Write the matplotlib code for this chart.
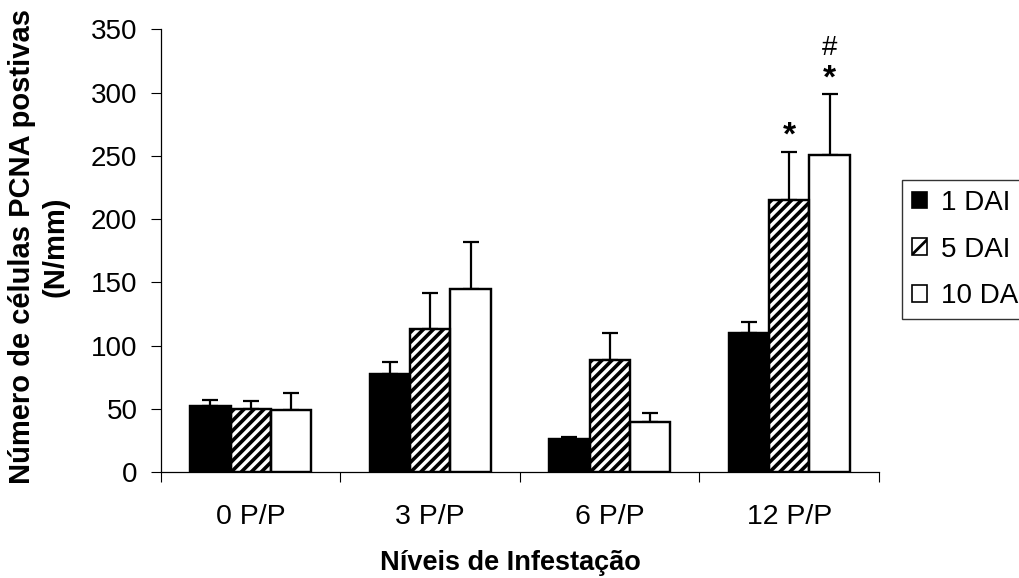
import numpy as np
import matplotlib
matplotlib.use("Agg")
import matplotlib.pyplot as plt
from matplotlib.patches import Patch

plt.rcParams["font.family"] = ["Liberation Sans", "DejaVu Sans"]
plt.rcParams["hatch.linewidth"] = 2.0

# ==== data ====
categories = ["0 P/P", "3 P/P", "6 P/P", "12 P/P"]
series = ["1 DAI", "5 DAI", "10 DAI"]
dai1 = [52, 78, 26, 110]
dai5 = [50, 113, 89, 215]
dai10 = [49, 145, 40, 251]
err1 = [5.5, 9, 2, 9]
err5 = [6, 29, 21, 38]
err10 = [14, 37, 7, 48]
yticks = [0, 50, 100, 150, 200, 250, 300, 350]

fig = plt.figure(figsize=(10.19, 5.78), dpi=100)
ax = fig.add_axes([0.158, 0.1829, 0.8626 - 0.158, 0.9493 - 0.1829])
ax.set_xlim(-0.5, 3.5)
ax.set_ylim(0, 350)

x = np.arange(len(categories))
w = 0.225
colors = ["black", "white", "white"]
values = [dai1, dai5, dai10]
errors = [err1, err5, err10]

containers = []
for i, (vals, errs) in enumerate(zip(values, errors)):
    pos = x + (i - 1) * w
    b = ax.bar(pos, vals, width=w, color=colors[i], edgecolor="black",
               linewidth=1.6, zorder=2)
    ax.bar(pos, vals, width=w, fill=False, edgecolor="black", linewidth=1.6,
           zorder=3)
    ax.errorbar(pos, vals, yerr=[np.zeros(len(errs)), errs], fmt="none",
                ecolor="black", elinewidth=1.6, capsize=6, capthick=1.6, zorder=1)
    containers.append(b)

# diagonal hatch on the 5 DAI bars (~10 px apart, 45 deg on screen)
bbox = ax.get_window_extent()
px_x = bbox.width / 4.0
px_y = bbox.height / 350.0
slope = px_x / px_y
step = 10 / px_y
for rect in containers[1]:
    x0, bw, h = rect.get_x(), rect.get_width(), rect.get_height()
    xs = np.array([x0, x0 + bw])
    for y0 in np.arange(-slope * bw, h + step, step):
        ln, = ax.plot(xs, y0 + slope * (xs - x0), color="black", lw=2.6,
                      solid_capstyle="butt", zorder=2.5)
        ln.set_clip_path(rect)

# significance marks
ax.text(x[3], dai5[3] + err5[3] + 13, "*", ha="center", va="center",
        fontsize=24, fontweight="bold")
ax.text(x[3] + w, dai10[3] + err10[3] + 12, "*", ha="center", va="center",
        fontsize=24, fontweight="bold")
ax.text(x[3] + w, dai10[3] + err10[3] + 36, "#", ha="center", va="center",
        fontsize=20)

# axes formatting
ax.set_yticks(yticks)
ax.set_xticks(x)
ax.set_xticklabels(categories)
ax.set_xticks(np.arange(-0.5, 4.0, 1.0), minor=True)
ax.tick_params(axis="x", which="major", length=0, pad=23, labelsize=20.5)
ax.tick_params(axis="x", which="minor", length=7, width=0.8, direction="out")
ax.tick_params(axis="y", length=7, width=0.8, pad=10, labelsize=20)
for s in ["top", "right"]:
    ax.spines[s].set_visible(False)
for s in ["left", "bottom"]:
    ax.spines[s].set_linewidth(0.9)

fig.text(39 / 1019, 1 - 247 / 578, "Número de células PCNA postivas\n(N/mm)",
         rotation=90, ha="center", va="center", fontsize=21, fontweight="bold",
         linespacing=1.25, multialignment="center")
fig.text(510 / 1019, 1 - 563 / 578, "Níveis de Infestação", ha="center",
         va="center", fontsize=19.5, fontweight="bold")

handles = [
    Patch(facecolor="black", edgecolor="black", linewidth=1.2),
    Patch(facecolor="white", edgecolor="black", linewidth=1.2, hatch="/"),
    Patch(facecolor="white", edgecolor="black", linewidth=1.2),
]
leg = fig.legend(handles=handles, labels=series, loc="upper left",
                 bbox_to_anchor=(902 / 1019, 1 - 180 / 578), fontsize=20,
                 frameon=True, fancybox=False, shadow=False, borderaxespad=0,
                 handlelength=0.55, handleheight=0.55, handletextpad=0.5,
                 labelspacing=0.75, borderpad=0.35)
leg.get_frame().set_edgecolor("black")
leg.get_frame().set_linewidth(1.0)

fig.savefig("out.png", dpi=100)
